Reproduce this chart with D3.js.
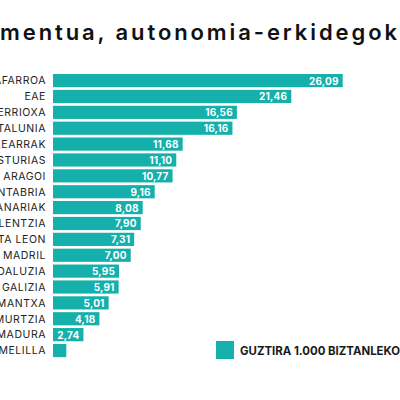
<!DOCTYPE html>
<html>
<head>
<meta charset="utf-8">
<script src="https://cdn.jsdelivr.net/npm/d3@7"></script>
<style>
  html, body { margin: 0; padding: 0; background: #fff; overflow: hidden; }
  svg { display: block; }
</style>
</head>
<body>
<script>
// Data
const regions = [
    "NAFARROA", "EAE", "ERRIOXA", "KATALUNIA", "BALEARRAK", "ASTURIAS",
    "ARAGOI", "KANTABRIA", "KANARIAK", "VALENTZIA", "GAZTELA ETA LEON", "MADRIL",
    "ANDALUZIA", "GALIZIA", "GAZTELA-MANTXA", "MURTZIA", "EXTREMADURA", "MELILLA"
];
const rates = [
    26.09, 21.46, 16.56, 16.16, 11.68, 11.10,
    10.77, 9.16, 8.08, 7.90, 7.31, 7.00,
    5.95, 5.91, 5.01, 4.18, 2.74, 1.20
];
const titleText = "Inkrementua, autonomia-erkidegoka";
const legendText = "GUZTIRA 1.000 BIZTANLEKO";

const width = 400;
const height = 400;
const teal = "#15b0ab";
const font = "Inter, 'Noto Sans', sans-serif";

const locale = d3.formatLocale({ decimal: ",", thousands: ".", grouping: [3], currency: ["", "€"] });
const fmt = locale.format(".2f");

const rows = regions.map((name, i) => ({ name: name, value: rates[i] }));

const svg = d3.select("body").append("svg")
    .attr("width", width)
    .attr("height", height);

// Title - the picture only shows its middle ("mentua, ... erkidegok"), spanning 0..397
const title = svg.append("text")
    .attr("y", 39.5)
    .attr("font-family", font)
    .attr("font-weight", 600)
    .attr("font-size", 22)
    .attr("fill", "#111")
    .text(titleText);
const tn = title.node();
const prefixW = tn.getSubStringLength(0, 5);
const shownW = tn.getSubStringLength(5, 27);
const spacing = Math.max(0, (397 - shownW) / 26);
title
    .attr("letter-spacing", spacing)
    .attr("x", -(prefixW + 5 * spacing));

// Scales
const x = d3.scaleLinear()
    .domain([0, 26.09])
    .range([53, 342.7]);

const y = d3.scaleBand()
    .domain(regions)
    .range([71.3, 359.8])
    .padding(0.17);

// Bars
svg.append("g")
    .selectAll("rect")
    .data(rows)
    .join("rect")
    .attr("x", x(0))
    .attr("y", d => y(d.name))
    .attr("width", d => x(d.value) - x(0))
    .attr("height", y.bandwidth())
    .attr("fill", teal);

// Values inside bars
svg.append("g")
    .selectAll("text")
    .data(rows.filter(d => d.value > 2))
    .join("text")
    .attr("x", d => x(d.value) - 4)
    .attr("y", d => y(d.name) + y.bandwidth() / 2 + 4)
    .attr("text-anchor", "end")
    .attr("font-family", font)
    .attr("font-weight", 700)
    .attr("font-size", 10)
    .attr("letter-spacing", 0.2)
    .attr("fill", "#fff")
    .text(d => fmt(d.value));

// Category labels
svg.append("g")
    .selectAll("text")
    .data(rows)
    .join("text")
    .attr("x", 46)
    .attr("y", d => y(d.name) + y.bandwidth() / 2 + 3.8)
    .attr("text-anchor", "end")
    .attr("font-family", font)
    .attr("font-size", 10.5)
    .attr("letter-spacing", 0.55)
    .attr("fill", "#222")
    .text(d => d.name);

// Legend
const legend = svg.append("g")
    .attr("transform", "translate(216, 341)");
legend.append("rect")
    .attr("width", 18)
    .attr("height", 18)
    .attr("fill", teal);
legend.append("text")
    .attr("x", 24)
    .attr("y", 13.5)
    .attr("font-family", font)
    .attr("font-weight", 700)
    .attr("font-size", 11.4)
    .attr("fill", "#1a1a1a")
    .text(legendText);
</script>
</body>
</html>
